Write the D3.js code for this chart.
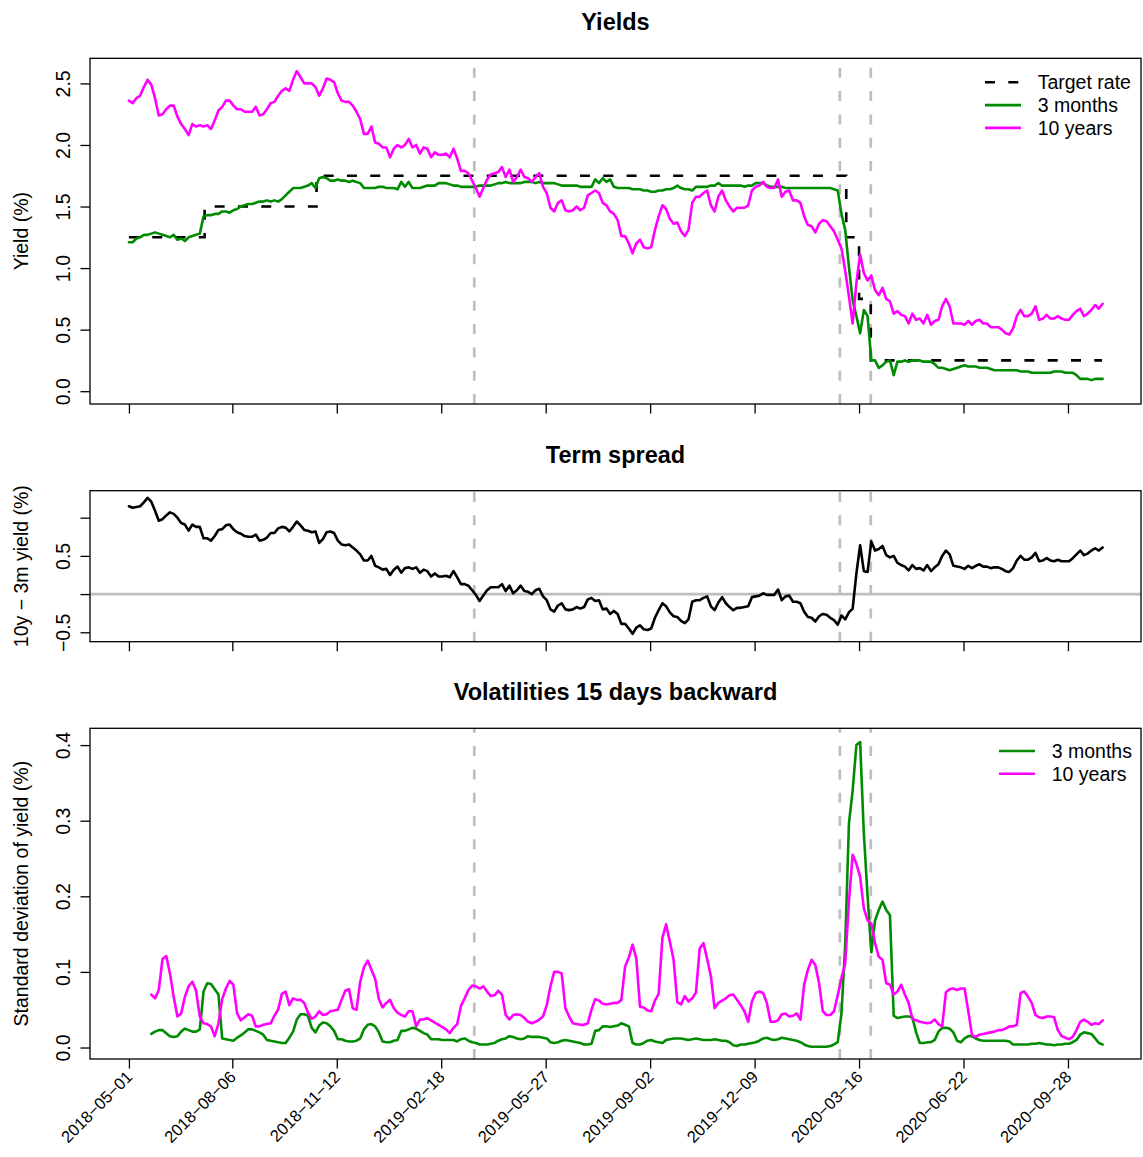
<!DOCTYPE html>
<html>
<head>
<meta charset="utf-8">
<script src="https://cdn.jsdelivr.net/npm/d3@7"></script>
<style>
  body{margin:0;background:#fff;}
  svg{display:block;font-family:"Liberation Sans",Arial,Helvetica,sans-serif;}
</style>
</head>
<body>
<div id="canvas"></div>
<script>
//all series: one reading every half week (84 h) from 2018-05-01 to 2020-10-30
var firstDay = '2018-05-01',
    lastDay = '2020-10-30';

var tenYear = [2.36,2.34,2.38,2.40,2.47,2.53,2.49,2.38,2.24,2.25,
  2.29,2.32,2.32,2.23,2.17,2.13,2.08,2.17,2.15,2.16,
  2.15,2.16,2.13,2.20,2.28,2.31,2.36,2.36,2.32,2.29,
  2.29,2.27,2.27,2.27,2.31,2.24,2.25,2.29,2.34,2.35,
  2.40,2.44,2.46,2.44,2.53,2.60,2.55,2.50,2.50,2.50,
  2.47,2.40,2.46,2.54,2.53,2.51,2.42,2.36,2.35,2.35,
  2.32,2.27,2.21,2.09,2.09,2.15,2.02,2.01,1.98,1.98,
  1.90,1.97,2.00,1.98,2.00,2.05,1.98,2.00,1.93,1.98,
  1.97,1.90,1.94,1.92,1.92,1.93,1.90,1.97,1.89,1.79,
  1.79,1.77,1.71,1.65,1.58,1.65,1.72,1.76,1.77,1.78,
  1.82,1.74,1.80,1.70,1.74,1.80,1.74,1.73,1.70,1.74,
  1.77,1.66,1.61,1.49,1.46,1.53,1.55,1.47,1.46,1.47,
  1.50,1.47,1.49,1.59,1.61,1.63,1.61,1.53,1.51,1.46,
  1.44,1.39,1.26,1.26,1.20,1.12,1.20,1.23,1.17,1.16,
  1.17,1.31,1.42,1.51,1.48,1.40,1.36,1.37,1.30,1.26,
  1.31,1.53,1.58,1.58,1.61,1.63,1.51,1.46,1.58,1.63,
  1.55,1.50,1.46,1.49,1.49,1.49,1.51,1.63,1.66,1.67,
  1.70,1.66,1.65,1.65,1.72,1.58,1.62,1.63,1.55,1.55,
  1.53,1.42,1.35,1.34,1.29,1.36,1.39,1.38,1.34,1.30,
  1.23,1.16,0.98,0.77,0.55,0.88,1.11,0.96,0.90,0.94,
  0.82,0.78,0.84,0.75,0.73,0.63,0.65,0.62,0.61,0.55,
  0.63,0.58,0.59,0.55,0.62,0.54,0.57,0.58,0.69,0.75,
  0.69,0.55,0.55,0.55,0.54,0.57,0.54,0.57,0.58,0.55,
  0.55,0.52,0.52,0.52,0.50,0.47,0.46,0.51,0.61,0.66,
  0.61,0.61,0.63,0.69,0.58,0.59,0.62,0.59,0.59,0.61,
  0.59,0.58,0.58,0.62,0.65,0.67,0.61,0.63,0.66,0.70,0.67,0.71];

var threeMonth = [1.21,1.21,1.24,1.25,1.27,1.27,1.28,1.29,1.28,1.27,
  1.26,1.25,1.27,1.23,1.24,1.22,1.25,1.26,1.27,1.28,
  1.42,1.43,1.43,1.44,1.44,1.46,1.46,1.45,1.47,1.48,
  1.50,1.51,1.52,1.52,1.53,1.54,1.54,1.55,1.54,1.55,
  1.54,1.56,1.59,1.62,1.65,1.65,1.65,1.66,1.67,1.69,
  1.65,1.73,1.74,1.73,1.71,1.71,1.72,1.71,1.71,1.70,
  1.71,1.70,1.69,1.65,1.65,1.65,1.65,1.66,1.66,1.65,
  1.65,1.65,1.64,1.70,1.66,1.70,1.65,1.65,1.65,1.66,
  1.67,1.67,1.67,1.69,1.69,1.69,1.68,1.67,1.67,1.66,
  1.66,1.66,1.66,1.66,1.67,1.67,1.67,1.67,1.68,1.69,
  1.69,1.70,1.69,1.69,1.69,1.69,1.70,1.70,1.70,1.69,
  1.70,1.69,1.69,1.69,1.69,1.68,1.67,1.67,1.67,1.67,
  1.67,1.66,1.66,1.66,1.66,1.72,1.69,1.73,1.70,1.72,
  1.66,1.65,1.65,1.65,1.65,1.64,1.64,1.64,1.63,1.63,
  1.62,1.62,1.63,1.63,1.64,1.64,1.65,1.67,1.65,1.64,
  1.64,1.63,1.66,1.66,1.66,1.66,1.67,1.67,1.69,1.67,
  1.67,1.67,1.67,1.67,1.67,1.66,1.67,1.67,1.69,1.69,
  1.69,1.67,1.66,1.66,1.66,1.66,1.65,1.65,1.65,1.65,
  1.65,1.65,1.65,1.65,1.65,1.65,1.65,1.65,1.65,1.64,
  1.63,1.44,1.31,1.01,0.74,0.61,0.47,0.66,0.61,0.25,
  0.25,0.19,0.21,0.24,0.25,0.13,0.24,0.24,0.25,0.24,
  0.25,0.25,0.25,0.24,0.24,0.24,0.22,0.19,0.19,0.18,
  0.17,0.18,0.19,0.20,0.21,0.20,0.20,0.20,0.19,0.19,
  0.19,0.18,0.17,0.17,0.17,0.17,0.17,0.17,0.17,0.16,
  0.16,0.16,0.15,0.15,0.15,0.15,0.15,0.15,0.16,0.16,
  0.16,0.15,0.15,0.15,0.13,0.10,0.10,0.10,0.09,0.10,0.10,0.10];

//15 day backward standard deviations, empty until the window is full
var volTenYear = [null,null,null,null,null,null,0.070,0.065,0.076,0.117,
  0.121,0.098,0.067,0.041,0.045,0.067,0.081,0.087,0.075,0.041,
  0.032,0.031,0.028,0.015,0.032,0.064,0.078,0.088,0.083,0.045,
  0.036,0.040,0.044,0.042,0.028,0.028,0.030,0.031,0.032,0.042,
  0.050,0.071,0.074,0.056,0.065,0.063,0.063,0.059,0.046,0.038,
  0.041,0.048,0.043,0.044,0.048,0.049,0.050,0.063,0.075,0.077,
  0.052,0.050,0.087,0.106,0.115,0.103,0.091,0.064,0.053,0.059,
  0.063,0.052,0.046,0.043,0.041,0.048,0.048,0.028,0.037,0.037,
  0.039,0.036,0.033,0.030,0.027,0.024,0.019,0.026,0.031,0.055,
  0.065,0.076,0.082,0.081,0.078,0.081,0.074,0.068,0.069,0.075,
  0.070,0.043,0.037,0.043,0.044,0.043,0.039,0.034,0.032,0.034,
  0.037,0.041,0.056,0.081,0.100,0.100,0.098,0.052,0.041,0.032,
  0.031,0.030,0.030,0.032,0.050,0.064,0.062,0.058,0.057,0.058,
  0.059,0.059,0.063,0.107,0.119,0.136,0.118,0.054,0.053,0.049,
  0.048,0.062,0.071,0.145,0.163,0.140,0.116,0.060,0.057,0.068,
  0.061,0.065,0.073,0.131,0.138,0.117,0.094,0.052,0.059,0.062,
  0.065,0.069,0.070,0.063,0.056,0.048,0.034,0.061,0.072,0.074,
  0.072,0.059,0.034,0.034,0.036,0.044,0.045,0.041,0.042,0.045,
  0.037,0.083,0.103,0.116,0.109,0.085,0.048,0.043,0.043,0.048,
  0.069,0.092,0.111,0.193,0.255,0.243,0.226,0.184,0.168,0.164,
  0.138,0.120,0.116,0.085,0.083,0.070,0.074,0.083,0.070,0.059,
  0.038,0.036,0.034,0.033,0.032,0.033,0.037,0.031,0.028,0.073,
  0.077,0.078,0.076,0.078,0.078,0.048,0.016,0.014,0.017,0.018,
  0.019,0.020,0.021,0.023,0.023,0.025,0.028,0.028,0.030,0.072,
  0.074,0.067,0.059,0.043,0.040,0.039,0.041,0.041,0.040,0.023,
  0.015,0.013,0.011,0.014,0.023,0.034,0.037,0.034,0.030,0.032,0.031,0.036];

var volThreeMonth = [null,null,null,null,null,null,0.018,0.021,0.023,0.023,
  0.019,0.015,0.014,0.015,0.021,0.025,0.023,0.021,0.021,0.024,
  0.074,0.085,0.084,0.077,0.070,0.012,0.011,0.010,0.009,0.013,
  0.016,0.020,0.024,0.024,0.022,0.020,0.017,0.010,0.009,0.008,
  0.007,0.006,0.006,0.013,0.021,0.037,0.044,0.044,0.042,0.026,
  0.020,0.029,0.033,0.032,0.028,0.022,0.011,0.011,0.009,0.008,
  0.008,0.009,0.012,0.024,0.030,0.031,0.028,0.020,0.008,0.007,
  0.007,0.009,0.010,0.022,0.022,0.024,0.026,0.025,0.022,0.019,
  0.017,0.011,0.011,0.011,0.010,0.010,0.010,0.010,0.008,0.011,
  0.012,0.009,0.007,0.006,0.004,0.004,0.004,0.005,0.006,0.009,
  0.011,0.012,0.015,0.014,0.012,0.011,0.012,0.015,0.014,0.014,
  0.014,0.013,0.012,0.007,0.006,0.007,0.009,0.010,0.009,0.008,
  0.007,0.006,0.004,0.004,0.005,0.022,0.023,0.028,0.028,0.027,
  0.028,0.029,0.032,0.030,0.028,0.006,0.004,0.004,0.006,0.009,
  0.010,0.008,0.007,0.006,0.010,0.011,0.012,0.012,0.012,0.011,
  0.010,0.011,0.012,0.011,0.010,0.010,0.010,0.011,0.010,0.009,
  0.009,0.007,0.003,0.002,0.004,0.004,0.005,0.006,0.007,0.009,
  0.012,0.013,0.011,0.010,0.011,0.013,0.012,0.011,0.010,0.009,
  0.007,0.004,0.002,0.001,0.001,0.001,0.001,0.001,0.002,0.004,
  0.007,0.045,0.136,0.296,0.340,0.400,0.404,0.283,0.200,0.126,
  0.168,0.182,0.193,0.182,0.175,0.042,0.039,0.040,0.041,0.041,
  0.040,0.020,0.006,0.006,0.007,0.007,0.010,0.021,0.026,0.026,
  0.025,0.020,0.009,0.007,0.012,0.015,0.015,0.012,0.010,0.009,
  0.009,0.009,0.009,0.009,0.009,0.009,0.008,0.004,0.004,0.004,
  0.004,0.004,0.005,0.005,0.006,0.005,0.004,0.004,0.003,0.004,
  0.004,0.005,0.005,0.007,0.010,0.017,0.020,0.019,0.018,0.012,0.006,0.004];

//Bank of Canada target rate, dates of change
var targetDates = ['2018-05-01','2018-07-11','2018-10-24','2020-03-04','2020-03-16','2020-03-27'];
var targetRate = [1.25,1.50,1.75,1.25,0.75,0.25];

var eventDates = ['2019-03-21','2020-02-27','2020-03-27'];
var tickDates = ['2018-05-01','2018-08-06','2018-11-12','2019-02-18','2019-05-27',
  '2019-09-02','2019-12-09','2020-03-16','2020-06-22','2020-09-28'];

var yieldTicks = [0,0.5,1,1.5,2,2.5],
    spreadTicks = [-0.5,0,0.5,1],
    spreadTickLabels = ['\u22120.5','','0.5',''],
    volTicks = [0,0.1,0.2,0.3,0.4];

//plotted ranges (before R style 4% padding)
var yieldLim = [0,2.6], spreadLim = [-0.55,1.28], volLim = [0.001,0.406];

var W = 1143, H = 1157;
var left = 90, right = 1141;
var green = '#008B00', magenta = '#FF00FF', grey = '#BEBEBE';
var dash = '10,13.3';

var parseDate = d3.utcParse('%Y-%m-%d');
var t0 = parseDate(firstDay), t1 = parseDate(lastDay);

var halfWeeks = tenYear.map(function(v, j){ return d3.utcHour.offset(t0, 84*j); });

function pad(lim){
  var r = lim[1]-lim[0];
  return [lim[0]-0.04*r, lim[1]+0.04*r];
}

var tp = (t1 - t0)*0.04;
var scaleX = d3.scaleUtc()
  .domain([new Date(+t0 - tp), new Date(+t1 + tp)])
  .range([left, right]);

var svg = d3.select('#canvas')
  .append('svg')
  .attr('width', W)
  .attr('height', H);
svg.append('rect').attr('width', W).attr('height', H).attr('fill', '#fff');

var panels = [
  {top:58.3, bottom:404, lim:yieldLim, title:'Yields', ylab:'Yield (%)', ticks:yieldTicks},
  {top:490.7, bottom:641.7, lim:spreadLim, title:'Term spread', ylab:'10y \u2212 3m yield (%)', ticks:spreadTicks, labels:spreadTickLabels},
  {top:728.3, bottom:1059, lim:volLim, title:'Volatilities 15 days backward', ylab:'Standard deviation of yield (%)', ticks:volTicks}
];

panels.forEach(function(p, k){
  p.y = d3.scaleLinear().domain(pad(p.lim)).range([p.bottom, p.top]);
  var g = svg.append('g');
  p.g = g;

  //title
  g.append('text')
    .attr('x', (left+right)/2)
    .attr('y', p.top - 28)
    .attr('text-anchor', 'middle')
    .style('font-weight', 'bold')
    .style('font-size', '23.5px')
    .text(p.title);

  //y axis label
  g.append('text')
    .attr('transform', 'translate(28,' + (p.top+p.bottom)/2 + ') rotate(-90)')
    .attr('text-anchor', 'middle')
    .style('font-size', '19.5px')
    .text(p.ylab);

  //y axis
  var axisY = d3.axisLeft(p.y)
    .tickValues(p.ticks)
    .tickSize(9.5)
    .tickFormat(function(d, i){ return p.labels ? p.labels[i] : d3.format('.1f')(d); });
  var ay = g.append('g').attr('class','yAxis')
    .attr('transform', 'translate(' + left + ',0)')
    .call(axisY);
  ay.select('.domain').remove();
  ay.selectAll('line').attr('stroke', '#000').attr('stroke-width', 1.3);
  ay.selectAll('text')
    .attr('x', 0).attr('dy', 0)
    .attr('fill', '#000')
    .attr('text-anchor', 'middle')
    .style('font-size', '19.5px')
    .attr('transform', 'translate(-20,0) rotate(-90)');

  //x axis, labels only on the last panel
  var axisX = d3.axisBottom(scaleX)
    .tickValues(tickDates.map(parseDate))
    .tickSize(9.5)
    .tickFormat(d3.utcFormat('%Y\u2212%m\u2212%d'));
  var ax = g.append('g').attr('class','xAxis')
    .attr('transform', 'translate(0,' + p.bottom + ')')
    .call(axisX);
  ax.select('.domain').remove();
  ax.selectAll('line').attr('stroke', '#000').attr('stroke-width', 1.3);
  if (k < 2) {
    ax.selectAll('text').remove();
  } else {
    ax.selectAll('text')
      .attr('y', 0).attr('dy', '0.35em')
      .attr('fill', '#000')
      .attr('text-anchor', 'end')
      .style('font-size', '16.5px')
      .attr('transform', 'translate(0,15) rotate(-45)');
  }

  //vertical event lines
  g.selectAll('.event')
    .data(eventDates)
    .enter()
    .append('line')
    .attr('x1', function(d){ return scaleX(parseDate(d)); })
    .attr('x2', function(d){ return scaleX(parseDate(d)); })
    .attr('y1', p.bottom)
    .attr('y2', p.top)
    .attr('stroke', grey)
    .attr('stroke-width', 2.7)
    .attr('stroke-dasharray', dash);
});

function drawLine(p, values, color){
  var pts = values.map(function(v, i){ return {d:halfWeeks[i], v:v}; });
  var line = d3.line()
    .defined(function(d){ return d.v != null; })
    .x(function(d){ return scaleX(d.d); })
    .y(function(d){ return p.y(d.v); });
  p.g.append('path')
    .datum(pts)
    .attr('d', line)
    .attr('fill', 'none')
    .attr('stroke', color)
    .attr('stroke-width', 2.6)
    .attr('stroke-linejoin', 'round')
    .attr('stroke-linecap', 'round');
}

//panel 1: yields
var p1 = panels[0];
var target = targetDates.map(function(d, i){ return {d:parseDate(d), v:targetRate[i]}; });
target.push({d:t1, v:targetRate[targetRate.length-1]});
p1.g.append('path')
  .datum(target)
  .attr('d', d3.line().curve(d3.curveStepAfter)
    .x(function(d){ return scaleX(d.d); })
    .y(function(d){ return p1.y(d.v); }))
  .attr('fill', 'none')
  .attr('stroke', '#000')
  .attr('stroke-width', 2.6)
  .attr('stroke-dasharray', dash);
drawLine(p1, threeMonth, green);
drawLine(p1, tenYear, magenta);

//panel 2: term spread = 10y - 3m
var p2 = panels[1];
p2.g.append('line')
  .attr('x1', left).attr('x2', right)
  .attr('y1', p2.y(0)).attr('y2', p2.y(0))
  .attr('stroke', grey)
  .attr('stroke-width', 2.7);
var spread = tenYear.map(function(v, i){ return Math.round((v - threeMonth[i])*100)/100; });
drawLine(p2, spread, '#000');

//panel 3: volatilities
var p3 = panels[2];
drawLine(p3, volThreeMonth, green);
drawLine(p3, volTenYear, magenta);

//legends
function legend(p, items, x0, y0){
  items.forEach(function(it, i){
    var y = y0 + i*22.8;
    p.g.append('line')
      .attr('x1', x0).attr('x2', x0 + 36)
      .attr('y1', y).attr('y2', y)
      .attr('stroke', it.color)
      .attr('stroke-width', 2.6)
      .attr('stroke-dasharray', it.dashed ? dash : null);
    p.g.append('text')
      .attr('x', x0 + 52.7)
      .attr('y', y + 6.8)
      .style('font-size', '19.5px')
      .text(it.label);
  });
}
legend(p1, [
  {label:'Target rate', color:'#000', dashed:true},
  {label:'3 months', color:green},
  {label:'10 years', color:magenta}
], 985, 82.3);
legend(p3, [
  {label:'3 months', color:green},
  {label:'10 years', color:magenta}
], 999, 751);

//panel boxes on top
panels.forEach(function(p){
  p.g.append('rect')
    .attr('x', left).attr('y', p.top)
    .attr('width', right-left).attr('height', p.bottom-p.top)
    .attr('fill', 'none')
    .attr('stroke', '#000')
    .attr('stroke-width', 1.3);
});
</script>
</body>
</html>
